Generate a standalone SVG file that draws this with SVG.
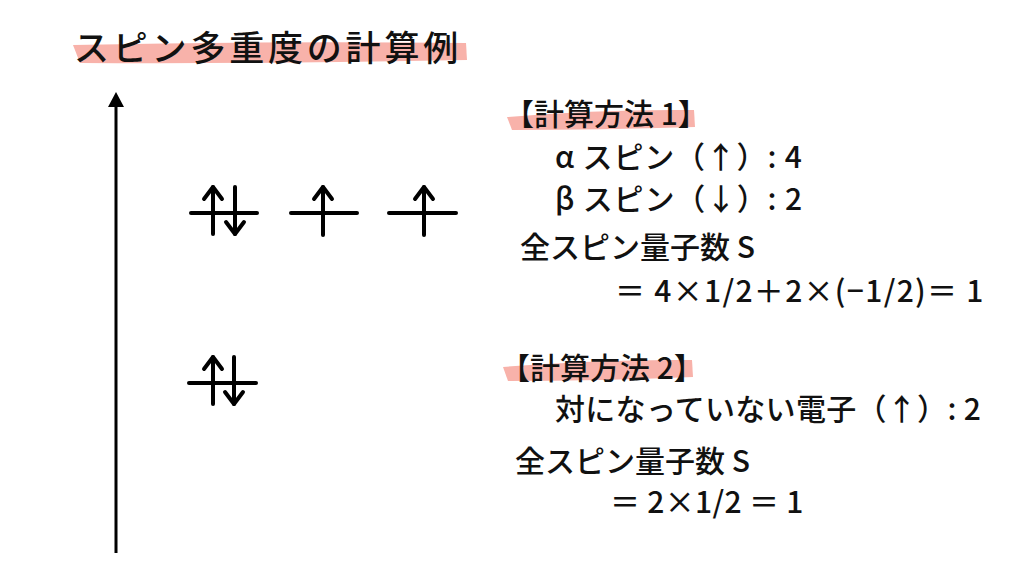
<svg xmlns="http://www.w3.org/2000/svg" width="1024" height="576" viewBox="0 0 1024 576">
<defs>
<style>
.t{font-family:"Noto Sans CJK JP","Noto Sans",sans-serif;font-weight:500;fill:#111;font-size:30px}
.hl{fill:#f8b2aa}
.orb{stroke:#000;stroke-width:4;stroke-linecap:round;fill:none;stroke-linejoin:round}
</style>
</defs>
<rect width="1024" height="576" fill="#fff"/>
<g id="title">
<path class="hl" d="M73,45 Q270,41 466,43 L467,60 Q270,64 80,63 Z"/>
<text class="t" x="74" y="61" style="font-size:35px" letter-spacing="3.8">スピン多重度の計算例</text>
</g>
<g id="connectors">
<line x1="116" y1="553" x2="116" y2="105" stroke="#000" stroke-width="3"/>
<path d="M108,107 L116,92 L124,107 Z" fill="#000"/>
</g>
<g id="orbital-upper" class="orb">
<line x1="191" y1="213" x2="257" y2="213"/>
<line x1="213" y1="187" x2="213" y2="234"/>
<polyline points="204,199 213,187 222,199"/>
<line x1="235" y1="187" x2="235" y2="234"/>
<polyline points="226,222 235,234 244,222"/>
<line x1="291" y1="213" x2="357" y2="213"/>
<line x1="323" y1="187" x2="323" y2="235"/>
<polyline points="314,199 323,187 332,199"/>
<line x1="389" y1="213" x2="456" y2="213"/>
<line x1="424" y1="187" x2="424" y2="235"/>
<polyline points="415,199 424,187 433,199"/>
</g>
<g id="orbital-lower" class="orb">
<line x1="189" y1="383" x2="256" y2="383"/>
<line x1="213" y1="357" x2="213" y2="404"/>
<polyline points="204,369 213,357 222,369"/>
<line x1="234" y1="357" x2="234" y2="404"/>
<polyline points="225,392 234,404 243,392"/>
</g>
<g id="method1">
<path class="hl" d="M507,117 Q600,109 694,110 L695,127 Q600,130 512,130 Z"/>
<text class="t" x="504" y="125">【計算方法 1】</text>
<text class="t" x="555" y="168" letter-spacing="0.8">α スピン（↑）: 4</text>
<text class="t" x="555" y="210" letter-spacing="0.8">β スピン（↓）: 2</text>
<text class="t" x="520" y="258">全スピン量子数 S</text>
<text class="t" x="615" y="302" letter-spacing="1.3">＝ 4×1/2＋2×(−1/2)＝ 1</text>
</g>
<g id="method2">
<path class="hl" d="M503,367 Q600,359 692,360 L693,377 Q600,381 508,381 Z"/>
<text class="t" x="500" y="379">【計算方法 2】</text>
<text class="t" x="555" y="420" letter-spacing="0.3">対になっていない電子（↑）: 2</text>
<text class="t" x="515" y="472">全スピン量子数 S</text>
<text class="t" x="610" y="513" letter-spacing="0.3">＝ 2×1/2 ＝ 1</text>
</g>
</svg>
